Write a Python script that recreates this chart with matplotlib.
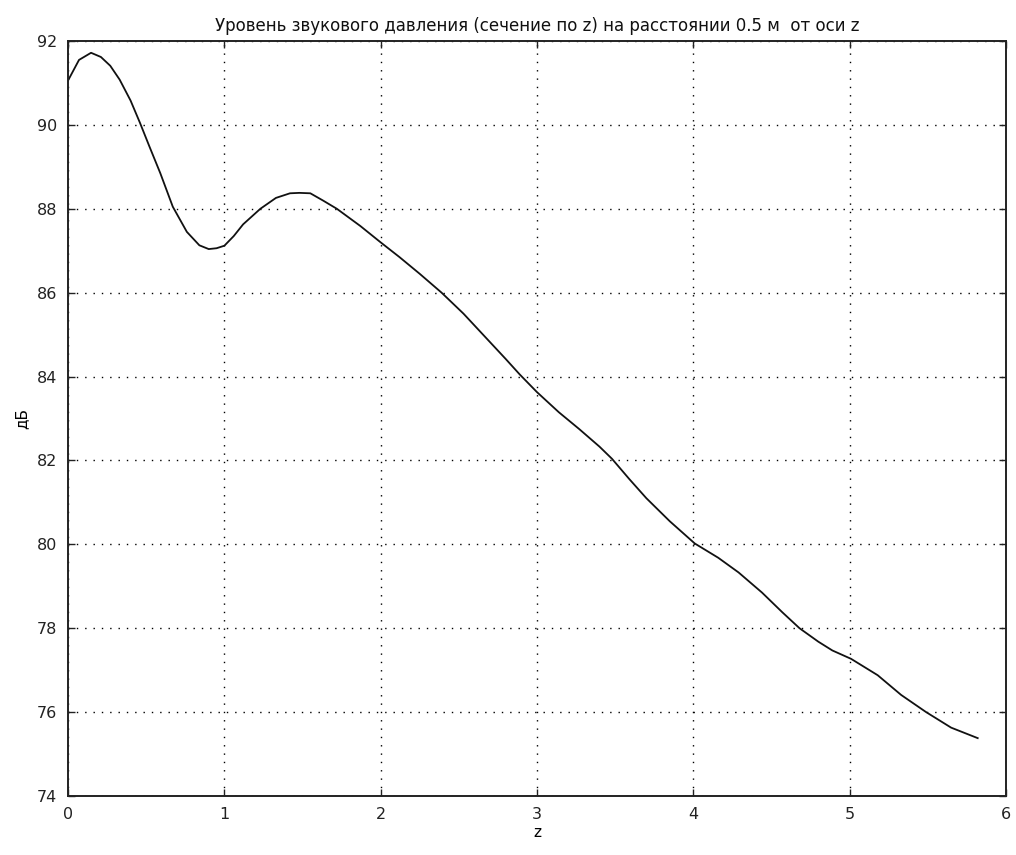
import numpy as np
import matplotlib
matplotlib.use('Agg')
import matplotlib.pyplot as plt

# z, m  ->  sound pressure level, dB
z = [0.0, 0.07, 0.147, 0.21, 0.27, 0.33, 0.40, 0.46, 0.52, 0.59, 0.67,
     0.76, 0.84, 0.90, 0.95, 1.0, 1.06, 1.12, 1.23, 1.33, 1.42, 1.48, 1.55,
     1.63, 1.72, 1.87, 2.0, 2.12, 2.25, 2.39, 2.53, 2.68, 2.80, 2.89, 3.0,
     3.14, 3.27, 3.40, 3.48, 3.59, 3.70, 3.85, 4.01, 4.16, 4.29, 4.44, 4.57,
     4.68, 4.80, 4.89, 5.01, 5.18, 5.33, 5.49, 5.65, 5.82]
level = [91.06, 91.55, 91.72, 91.62, 91.41, 91.08, 90.58, 90.05, 89.49, 88.85,
         88.05, 87.45, 87.13, 87.04, 87.06, 87.12, 87.35, 87.63, 88.0, 88.26,
         88.37, 88.38, 88.37, 88.2, 88.0, 87.59, 87.2, 86.85, 86.45, 86.0,
         85.5, 84.9, 84.42, 84.05, 83.63, 83.15, 82.75, 82.33, 82.04, 81.56,
         81.1, 80.55, 80.02, 79.68, 79.33, 78.85, 78.38, 78.0, 77.68, 77.47,
         77.27, 76.88, 76.41, 76.0, 75.63, 75.38]

xticks = [0, 1, 2, 3, 4, 5, 6]
yticks = [74, 76, 78, 80, 82, 84, 86, 88, 90, 92]

plt.rcParams['font.family'] = ['DejaVu Sans']

fig = plt.figure(figsize=(10.16, 8.55), dpi=100)
ax = fig.add_axes([0.067, 0.069, 0.923, 0.883])

ax.plot(z, level, color='#111111', lw=1.3)

ax.set_xlim(0, 6)
ax.set_ylim(74, 92)
ax.set_xticks(xticks)
ax.set_yticks(yticks)
ax.grid(True, color='black', linestyle=(0, (1, 5)), linewidth=1.0)
ax.tick_params(direction='in', top=True, right=True, length=5, width=1,
               labelsize=11.5, colors='#222222', pad=8)
for s in ax.spines.values():
    s.set_linewidth(1.4)
    s.set_color('#222222')

ax.set_title('Уровень звукового давления (сечение по z) на расстоянии 0.5 м  от оси z',
             fontsize=12, pad=7, color='#111111')
ax.set_xlabel('z', fontsize=11, labelpad=2)
ax.set_ylabel('дБ', fontsize=11, labelpad=5)

fig.savefig('out.png', dpi=100)
